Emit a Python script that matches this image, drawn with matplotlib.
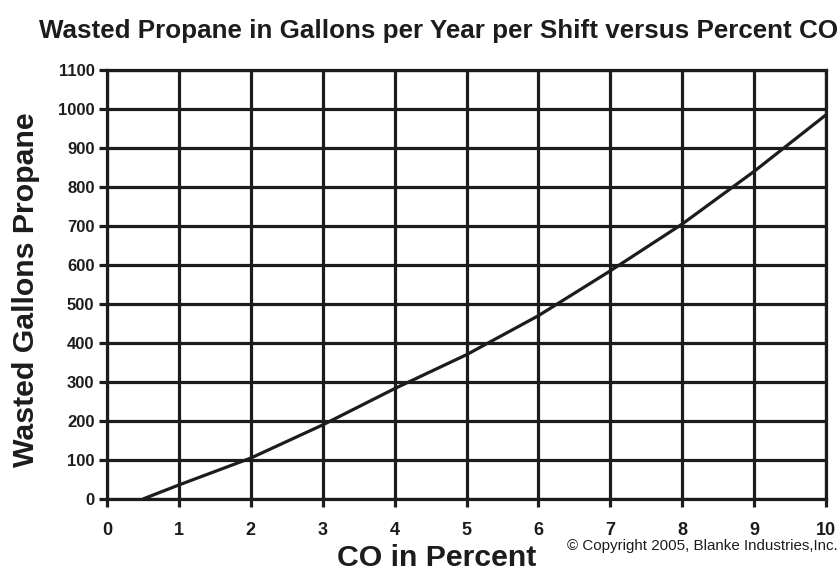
import matplotlib.pyplot as plt

# curve
co_pct = [0.5, 1, 2, 3, 4, 5, 6, 7, 8, 9, 10]
gallons = [0, 36, 105, 190, 283, 370, 470, 585, 705, 840, 985]

x_ticks = list(range(0, 11))
y_ticks = list(range(0, 1101, 100))

ink = '#1c1c1c'
lw = 2.3
plt.rcParams['font.family'] = ['Liberation Sans', 'DejaVu Sans']

fig = plt.figure(figsize=(8.4, 5.73), dpi=100)
ax = fig.add_axes([107/840, 1 - 499/573, 719/840, 429/573])

ax.plot(co_pct, gallons, color=ink, lw=lw, solid_capstyle='butt', zorder=3)

ax.set_xlim(0, 10)
ax.set_ylim(0, 1100)
ax.set_xticks(x_ticks)
ax.set_yticks(y_ticks)
ax.grid(True, color=ink, lw=lw)
for s in ax.spines.values():
    s.set_color(ink)
    s.set_linewidth(lw)
ax.tick_params(axis='both', direction='out', length=6, width=lw, color=ink,
               labelcolor=ink)
ax.tick_params(axis='x', pad=10.5, labelsize=13)
ax.tick_params(axis='y', pad=3, labelsize=12)
for t in ax.get_xticklabels() + ax.get_yticklabels():
    t.set_fontweight('bold')

ax.set_xlabel('CO in Percent', fontsize=21.8, fontweight='bold', color=ink, va='center')
ax.xaxis.set_label_coords((437 - 107) / 719, (499 - 558) / 429)
ax.set_ylabel('Wasted Gallons Propane', fontsize=21.8, fontweight='bold', color=ink, va='center')
ax.yaxis.set_label_coords((26 - 107) / 719, (499 - 290) / 429)

fig.text(838/840, 1 - 31/573, 'Wasted Propane in Gallons per Year per Shift versus Percent CO',
         ha='right', va='center', fontsize=18.7, fontweight='bold', color=ink)
fig.text(838/840, 1 - 546/573, '\u00a9 Copyright 2005, Blanke Industries,Inc.',
         ha='right', va='center', fontsize=10.9, color=ink)

fig.savefig('out.png', dpi=100, facecolor='white')
